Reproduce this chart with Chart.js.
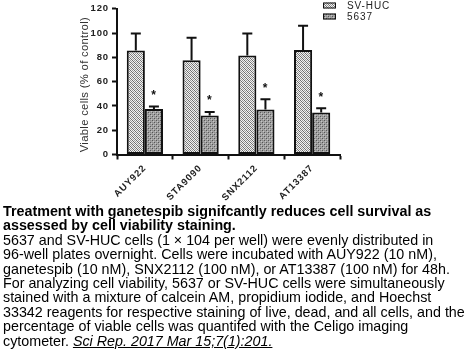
<!DOCTYPE html>
<html>
<head>
<meta charset="utf-8">
<script src="https://cdn.jsdelivr.net/npm/chart.js@4.4.1/dist/chart.umd.min.js"></script>
<style>
  html, body { margin: 0; padding: 0; background: #fff; }
  #wrap { position: relative; width: 474px; height: 355px; overflow: hidden; }
  canvas { display: block; }
  #caption { position: absolute; left: 3px; top: 204px; font-family: "Liberation Sans", Arial, sans-serif; font-size: 14.3px; line-height: 14.4px; color: #000; white-space: nowrap; }
  #caption b { font-weight: bold; }
  #caption .ref { font-style: italic; text-decoration: underline; }
</style>
</head>
<body>
<div id="wrap">
  <canvas id="c" width="474" height="205"></canvas>
  <div id="caption">
    <b>Treatment with ganetespib signifcantly reduces cell survival as<br>assessed by cell viability staining.</b><br>
    5637 and SV-HUC cells (1 × 104 per well) were evenly distributed in<br>
    96-well plates overnight. Cells were incubated with AUY922 (10 nM),<br>
    ganetespib (10 nM), SNX2112 (100 nM), or AT13387 (100 nM) for 48h.<br>
    For analyzing cell viability, 5637 or SV-HUC cells were simultaneously<br>
    stained with a mixture of calcein AM, propidium iodide, and Hoechst<br>
    33342 reagents for respective staining of live, dead, and all cells, and the<br>
    percentage of viable cells was quantifed with the Celigo imaging<br>
    cytometer. <span class="ref">Sci Rep. 2017 Mar 15;7(1):201.</span>
  </div>
</div>
<script>
const categories = ['AUY922', 'STA9090', 'SNX2112', 'AT13387'];
const seriesNames = ['SV-HUC', '5637'];
const svhucValues = [85.5, 77.5, 81.5, 86];
const svhucErrTop = [99.5, 96, 99.5, 106];
const c5637Values = [37.5, 32, 37, 34.5];
const c5637ErrTop = [39.5, 35, 45.5, 38];
const significant5637 = [true, true, true, true];
const yTicks = [0, 20, 40, 60, 80, 100, 120];
const yTitle = 'Viable cells (% of control)';

function makePattern(bg, dots) {
  const t = document.createElement('canvas');
  t.width = 4; t.height = 4;
  const g = t.getContext('2d');
  g.fillStyle = bg; g.fillRect(0, 0, 4, 4);
  dots.forEach(d => { g.fillStyle = d[2]; g.fillRect(d[0], d[1], 1, 1); });
  return document.getElementById('c').getContext('2d').createPattern(t, 'repeat');
}
const patSV = makePattern('#f2f2f2', [[0,0,'#6e6e6e'],[2,0,'#9a9a9a'],[1,1,'#6e6e6e'],[3,1,'#9a9a9a'],[0,2,'#9a9a9a'],[2,2,'#6e6e6e'],[1,3,'#9a9a9a'],[3,3,'#6e6e6e']]);
const pat56 = makePattern('#a2a2a2', [[0,0,'#555'],[2,2,'#555'],[1,1,'#c4c4c4'],[3,3,'#c4c4c4'],[2,0,'#8a8a8a'],[0,2,'#8a8a8a']]);

const errTops = [svhucErrTop, c5637ErrTop];

const spacingPlugin = {
  id: 'spacing',
  beforeUpdate(chart) { chart.ctx.letterSpacing = '0.9px'; },
  beforeDraw(chart) { chart.ctx.letterSpacing = '0.9px'; }
};

const extrasPlugin = {
  id: 'extras',
  afterDraw(chart) {
    const ctx = chart.ctx;
    ctx.save();
    ctx.letterSpacing = '0.3px';
    ctx.translate(85, (chart.chartArea.top + chart.chartArea.bottom) / 2 + 3);
    ctx.rotate(-Math.PI / 2);
    ctx.fillStyle = '#333';
    ctx.font = '11.3px "Liberation Sans", Arial, sans-serif';
    ctx.textAlign = 'center';
    ctx.textBaseline = 'middle';
    ctx.fillText(yTitle, 0, 0);
    ctx.restore();
  },
  afterDatasetsDraw(chart) {
    const ctx = chart.ctx;
    const y = chart.scales.y;
    ctx.save();
    ctx.strokeStyle = '#111';
    ctx.lineWidth = 2;
    chart.data.datasets.forEach((ds, di) => {
      const meta = chart.getDatasetMeta(di);
      meta.data.forEach((el, i) => {
        const top = y.getPixelForValue(errTops[di][i]);
        const barTop = el.y;
        ctx.beginPath();
        ctx.moveTo(el.x, barTop);
        ctx.lineTo(el.x, top);
        ctx.moveTo(el.x - 5, top);
        ctx.lineTo(el.x + 5, top);
        ctx.stroke();
        if (di === 1 && significant5637[i]) {
          ctx.fillStyle = '#111';
          ctx.font = 'bold 12px "Liberation Sans", Arial, sans-serif';
          ctx.textAlign = 'center';
          ctx.textBaseline = 'middle';
          ctx.fillText('*', el.x, top - 11);
        }
      });
    });
    // legend
    const pats = [patSV, pat56];
    ctx.font = '10px "Liberation Sans", Arial, sans-serif';
    ctx.textAlign = 'left';
    ctx.textBaseline = 'middle';
    ctx.lineWidth = 1;
    seriesNames.forEach((name, i) => {
      const yy = 5.5 + i * 11;
      ctx.fillStyle = pats[i];
      ctx.fillRect(323, yy - 3, 13, 6);
      ctx.strokeStyle = '#111';
      ctx.strokeRect(323.5, yy - 2.5, 12, 5);
      ctx.fillStyle = '#222';
      ctx.fillText(name, 347, yy + 0.5);
    });
    ctx.restore();
  }
};

new Chart(document.getElementById('c'), {
  type: 'bar',
  data: {
    labels: categories,
    datasets: [
      { label: seriesNames[0], data: svhucValues, backgroundColor: patSV, borderColor: '#111', borderWidth: 2, borderSkipped: false },
      { label: seriesNames[1], data: c5637Values, backgroundColor: pat56, borderColor: '#111', borderWidth: 2, borderSkipped: false }
    ]
  },
  options: {
    responsive: false,
    animation: false,
    devicePixelRatio: 1,
    layout: { padding: { top: 7, right: 134, left: 0, bottom: 0 } },
    datasets: { bar: { categoryPercentage: 0.65, barPercentage: 1 } },
    plugins: { legend: { display: false }, tooltip: { enabled: false } },
    scales: {
      x: {
        offset: true,
        grid: { display: true, drawOnChartArea: false, drawTicks: true, tickLength: 5, tickColor: '#111', tickWidth: 2 },
        border: { display: true, color: '#111', width: 2 },
        ticks: { color: '#222', font: { family: '"Liberation Sans", Arial, sans-serif', size: 9.5, weight: 'bold' }, maxRotation: 45, minRotation: 45, padding: 3 },
        afterFit(scale) { scale.height = 50.5; }
      },
      y: {
        min: 0, max: 120,
        afterBuildTicks(scale) { scale.ticks = yTicks.map(v => ({ value: v })); },
        grid: { display: true, drawOnChartArea: false, drawTicks: true, tickLength: 5, tickColor: '#111', tickWidth: 2 },
        border: { display: true, color: '#111', width: 2 },
        ticks: { color: '#222', font: { family: '"Liberation Sans", Arial, sans-serif', size: 9.5, weight: 'bold' }, padding: 3 },
        title: { display: false },
        afterFit(scale) { scale.width = 117; }
      }
    }
  },
  plugins: [spacingPlugin, extrasPlugin]
});
</script>
</body>
</html>
